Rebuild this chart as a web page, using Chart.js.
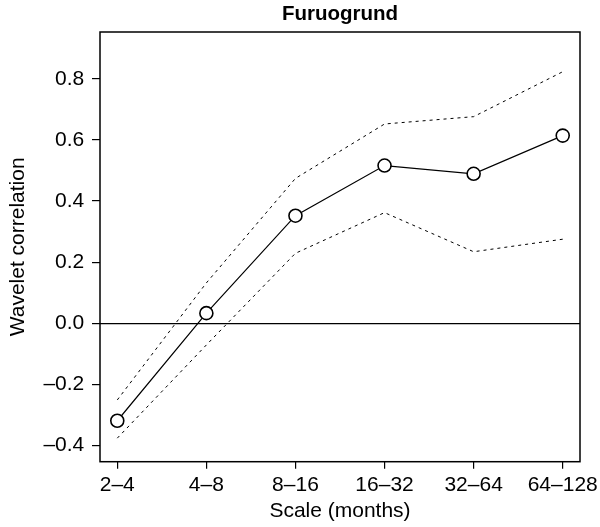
<!DOCTYPE html>
<html>
<head>
<meta charset="utf-8">
<script src="https://cdn.jsdelivr.net/npm/chart.js@4"></script>
<style>
  html, body { margin: 0; padding: 0; background: #fff; }
  #wrap { width: 600px; height: 527px; }
</style>
</head>
<body>
<div id="wrap"><canvas id="waveletChart"></canvas></div>
<script>
const scaleLabels = ['2\u20134', '4\u20138', '8\u201316', '16\u201332', '32\u201364', '64\u2013128'];
const correlation = [-0.319, 0.033, 0.352, 0.516, 0.489, 0.614];
const upperBound = [-0.251, 0.132, 0.474, 0.652, 0.676, 0.823];
const lowerBound = [-0.376, -0.071, 0.229, 0.362, 0.234, 0.275];
const yTicks = [-0.4, -0.2, 0, 0.2, 0.4, 0.6, 0.8];

const toPoints = arr => arr.map((v, i) => ({ x: i, y: v }));
const family = '"Liberation Sans", Arial, sans-serif';
const font = { family: family, size: 21 };

// full box around the plot area, like R's box()
const frame = {
    id: 'frame',
    afterDraw(chart) {
        const { ctx, chartArea: a } = chart;
        ctx.save();
        ctx.strokeStyle = '#000';
        ctx.lineWidth = 1.5;
        ctx.strokeRect(a.left, a.top, a.right - a.left, a.bottom - a.top);
        ctx.restore();
    }
};

const dotted = {
    borderColor: '#000',
    borderWidth: 1,
    borderDash: [3, 4],
    pointRadius: 0,
    fill: false,
    tension: 0
};

new Chart(document.getElementById('waveletChart'), {
    type: 'line',
    data: {
        datasets: [
            {
                label: 'Wavelet correlation',
                data: toPoints(correlation),
                borderColor: '#000',
                borderWidth: 1.2,
                pointRadius: 6.5,
                pointBorderWidth: 1.6,
                pointBorderColor: '#000',
                pointBackgroundColor: '#fff',
                tension: 0
            },
            Object.assign({ label: 'Upper', data: toPoints(upperBound) }, dotted),
            Object.assign({ label: 'Lower', data: toPoints(lowerBound) }, dotted)
        ]
    },
    options: {
        responsive: true,
        maintainAspectRatio: false,
        animation: false,
        layout: { padding: { left: 0, right: 20, top: 0, bottom: 0 } },
        plugins: {
            legend: { display: false },
            tooltip: { enabled: false },
            title: {
                display: true,
                text: 'Furuogrund',
                color: '#000',
                fullSize: false,
                font: { family: family, size: 20.5, weight: 'bold' },
                padding: { top: 1.7, bottom: 5.7 }
            }
        },
        scales: {
            x: {
                type: 'linear',
                min: -0.194,
                max: 5.194,
                afterBuildTicks: axis => { axis.ticks = scaleLabels.map((c, i) => ({ value: i })); },
                afterFit: axis => {
                    axis.height = 65.3;
                    // last label may hang past the plot; don't let it shrink the plot area
                    axis.paddingLeft = 0;
                    axis.paddingRight = 0;
                },
                border: { display: false },
                grid: { drawOnChartArea: false, color: '#000', tickColor: '#000', tickLength: 7, lineWidth: 1.2 },
                ticks: {
                    color: '#000',
                    font: font,
                    padding: 4,
                    maxRotation: 0,
                    autoSkip: false,
                    callback: v => scaleLabels[v]
                },
                title: {
                    display: true,
                    text: 'Scale (months)',
                    color: '#000',
                    font: font,
                    padding: { top: 0, bottom: 2.7 }
                }
            },
            y: {
                min: -0.453,
                max: 0.953,
                afterBuildTicks: axis => { axis.ticks = yTicks.map(v => ({ value: v })); },
                afterFit: axis => { axis.width = 100; },
                border: { display: false },
                grid: {
                    color: ctx => (ctx.tick && ctx.tick.value === 0 ? '#000' : 'rgba(0,0,0,0)'),
                    tickColor: '#000',
                    tickLength: 8,
                    lineWidth: 1.2
                },
                ticks: {
                    color: '#000',
                    font: font,
                    padding: 7.7,
                    callback: v => v.toFixed(1).replace('-', '\u2013')
                },
                title: {
                    display: true,
                    text: 'Wavelet correlation',
                    color: '#000',
                    font: font,
                    padding: { top: 5.9, bottom: 0 }
                }
            }
        }
    },
    plugins: [frame]
});
</script>
</body>
</html>
